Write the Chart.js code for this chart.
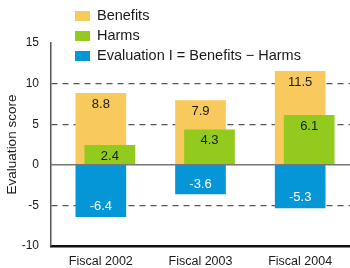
<!DOCTYPE html>
<html>
<head>
<meta charset="utf-8">
<script src="https://cdn.jsdelivr.net/npm/chart.js@4"></script>
<style>
  html, body { margin: 0; padding: 0; background: #fff; }
  #wrap { width: 350px; height: 268px; position: relative; }
</style>
</head>
<body>
<div id="wrap"><canvas id="chart"></canvas></div>
<script>
const categories = ['Fiscal 2002', 'Fiscal 2003', 'Fiscal 2004'];
const benefits = [8.8, 7.9, 11.5];
const harms = [2.4, 4.3, 6.1];
const evaluation = [-6.4, -3.6, -5.3];
const seriesNames = ['Benefits', 'Harms', 'Evaluation I = Benefits \u2212 Harms'];
const yTicks = [-10, -5, 0, 5, 10, 15];

const FONT = "'Liberation Sans', Arial, sans-serif";

// shift the Harms bars a little to the right so they overlap Benefits
const shiftPlugin = {
    id: 'shiftHarms',
    afterDatasetsUpdate(chart) {
        const meta = chart.getDatasetMeta(1);
        meta.data.forEach(bar => { bar.x += 9; });
    }
};

// zero line and value labels on top of the bars
const labelPlugin = {
    id: 'valueLabels',
    afterDatasetsDraw(chart) {
        const { ctx, chartArea, scales } = chart;
        const y0 = scales.y.getPixelForValue(0);
        ctx.save();
        ctx.strokeStyle = '#777';
        ctx.lineWidth = 1.5;
        ctx.beginPath();
        ctx.moveTo(chartArea.left, y0);
        ctx.lineTo(chartArea.right, y0);
        ctx.stroke();

        ctx.font = '13px ' + FONT;
        ctx.textAlign = 'center';
        ctx.textBaseline = 'middle';
        chart.data.datasets.forEach((ds, di) => {
            const meta = chart.getDatasetMeta(di);
            meta.data.forEach((bar, i) => {
                const v = ds.data[i];
                if (v >= 0) {
                    ctx.fillStyle = '#1a1a1a';
                    ctx.fillText(v.toFixed(1), bar.x, bar.y + 11);
                } else {
                    ctx.fillStyle = '#fff';
                    ctx.fillText(v.toFixed(1), bar.x, bar.y - 10);
                }
            });
        });
        ctx.restore();
    }
};

// vertical legend in the top left
const legendPlugin = {
    id: 'stackLegend',
    afterDraw(chart) {
        const { ctx } = chart;
        ctx.save();
        ctx.font = '14.5px ' + FONT;
        ctx.textBaseline = 'middle';
        ctx.textAlign = 'left';
        chart.data.datasets.forEach((ds, i) => {
            const cy = 16 + i * 20;
            ctx.fillStyle = ds.backgroundColor;
            ctx.fillRect(75, cy - 5, 15, 10);
            ctx.fillStyle = '#1a1a1a';
            ctx.fillText(ds.label, 97, cy);
        });
        ctx.restore();
    }
};

new Chart(document.getElementById('chart'), {
    type: 'bar',
    data: {
        labels: categories,
        datasets: [
            { label: seriesNames[0], data: benefits, backgroundColor: '#F8C95C', order: 2 },
            { label: seriesNames[1], data: harms, backgroundColor: '#92CB1D', order: 1 },
            { label: seriesNames[2], data: evaluation, backgroundColor: '#0596D8', order: 3 }
        ]
    },
    options: {
        responsive: true,
        maintainAspectRatio: false,
        animation: false,
        events: [],
        layout: { padding: { top: 43, right: 0, left: 0, bottom: 0 } },
        datasets: {
            bar: { grouped: false, barThickness: 50, borderWidth: 0 }
        },
        plugins: {
            legend: { display: false },
            tooltip: { enabled: false }
        },
        scales: {
            x: {
                grid: { display: false },
                border: { display: true, color: '#111', width: 2.5 },
                ticks: { color: '#1a1a1a', font: { family: FONT, size: 12.5 }, padding: 0 },
                afterFit(scale) { scale.height = 22; }
            },
            y: {
                min: -10,
                max: 15,
                afterBuildTicks(scale) { scale.ticks = yTicks.map(v => ({ value: v })); },
                grid: {
                    drawTicks: false,
                    lineWidth: 1.3,
                    color: c => [10, 5, -5].includes(c.tick && c.tick.value) ? '#555' : 'rgba(0,0,0,0)'
                },
                border: { display: true, color: '#555', width: 1.5, dash: [6, 5] },
                ticks: { color: '#1a1a1a', font: { family: FONT, size: 12 }, padding: 12 },
                title: {
                    display: true,
                    text: 'Evaluation score',
                    color: '#1a1a1a',
                    font: { family: FONT, size: 13.5 },
                    padding: { top: 4, bottom: 0 }
                },
                afterFit(scale) { scale.width = 51; }
            }
        }
    },
    plugins: [shiftPlugin, labelPlugin, legendPlugin]
});
</script>
</body>
</html>
